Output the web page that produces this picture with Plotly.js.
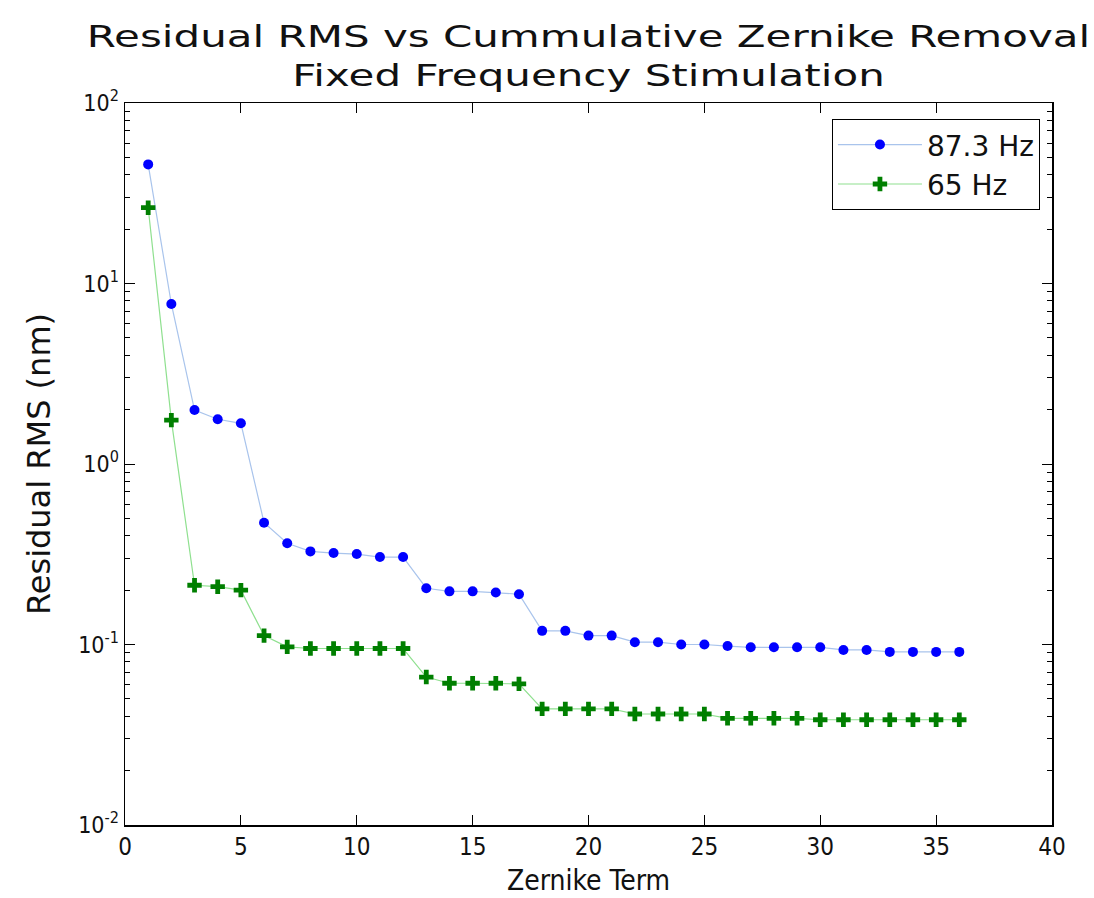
<!DOCTYPE html>
<html>
<head>
<meta charset="utf-8">
<script src="https://cdn.plot.ly/plotly-3.0.1.min.js"></script>
<style>
  html, body { margin: 0; padding: 0; background: #fff; }
  #chart { width: 1094px; height: 898px; }
</style>
</head>
<body>
<div id="chart"></div>
<script>
// Zernike term index (cumulative terms removed)
const zernikeTerms = [1, 2, 3, 4, 5, 6, 7, 8, 9, 10, 11, 12, 13, 14, 15, 16, 17, 18,
  19, 20, 21, 22, 23, 24, 25, 26, 27, 28, 29, 30, 31, 32, 33, 34, 35, 36];

// Residual RMS (nm) at 87.3 Hz stimulation
const rms873Hz = [45.7, 7.7, 1.99, 1.77, 1.68, 0.473, 0.364, 0.328, 0.321, 0.317, 0.305, 0.305,
  0.205, 0.197, 0.197, 0.194, 0.19, 0.119, 0.119, 0.112, 0.112, 0.103, 0.103, 0.100,
  0.100, 0.098, 0.0965, 0.0965, 0.0965, 0.0965, 0.0933, 0.0933, 0.091, 0.091, 0.091, 0.091];

// Residual RMS (nm) at 65 Hz stimulation
const rms65Hz = [26.3, 1.75, 0.213, 0.209, 0.2, 0.112, 0.097, 0.095, 0.095, 0.095, 0.095, 0.095,
  0.066, 0.061, 0.061, 0.061, 0.0605, 0.044, 0.044, 0.044, 0.044, 0.0412, 0.0412, 0.0412,
  0.0412, 0.039, 0.039, 0.039, 0.039, 0.0383, 0.0383, 0.0383, 0.0383, 0.0383, 0.0383, 0.0383];

const seriesNames = ['87.3 Hz', '65 Hz'];

// Log-axis decade labels
const yTickVals = [0.01, 0.1, 1, 10, 100];
const yTickText = ['10<sup>-2</sup>', '10<sup>-1</sup>', '10<sup>0</sup>', '10<sup>1</sup>', '10<sup>2</sup>'];

// X-axis tick positions
const xTickVals = [0, 5, 10, 15, 20, 25, 30, 35, 40];

// Minor ticks at 2..9 within each decade
const minorVals = [];
[0.01, 0.1, 1, 10].forEach(d => { for (let k = 2; k <= 9; k++) minorVals.push(d * k); });

const traces = [
  {
    x: zernikeTerms, y: rms873Hz, name: seriesNames[0],
    type: 'scatter', mode: 'lines+markers',
    line: { color: '#a9c4ec', width: 1.2 },
    marker: { symbol: 'circle', size: 10, color: '#0000ff', line: { width: 0 } }
  },
  {
    x: zernikeTerms, y: rms65Hz, name: seriesNames[1],
    type: 'scatter', mode: 'lines+markers',
    line: { color: '#8fe08f', width: 1.2 },
    marker: { symbol: 'cross', size: 12, color: '#007f00', line: { width: 0 } }
  }
];

const condensed = 'DejaVu Sans Condensed, DejaVu Sans, sans-serif';
const sans = 'DejaVu Sans, sans-serif';

const layout = {
  width: 1094, height: 898,
  paper_bgcolor: '#fff', plot_bgcolor: '#fff',
  margin: { l: 125, r: 42, t: 103, b: 73 },
  title: {
    text: 'Residual RMS vs Cummulative Zernike Removal<br>Fixed Frequency Stimulation',
    font: { family: sans, size: 30, color: '#111' },
    x: 0.5, xanchor: 'center', xref: 'paper',
    y: 0.948, yanchor: 'top', yref: 'container'
  },
  showlegend: true,
  legend: {
    x: 0.987, xanchor: 'right', y: 0.978, yanchor: 'top',
    bordercolor: '#000', borderwidth: 1, bgcolor: '#fff',
    font: { family: sans, size: 28, color: '#111' },
    itemwidth: 84
  },
  xaxis: {
    range: [0, 40], tickmode: 'array', tickvals: xTickVals,
    ticks: 'inside', ticklen: 10, tickcolor: '#000', tickwidth: 1,
    showline: true, linecolor: '#000', linewidth: 1.5, mirror: 'ticks',
    showgrid: false, zeroline: false,
    tickfont: { family: condensed, size: 24, color: '#111' },
    title: { text: 'Zernike Term', font: { family: condensed, size: 28, color: '#111' }, standoff: 10 }
  },
  yaxis: {
    type: 'log', range: [-2, 2],
    tickmode: 'array', tickvals: yTickVals, ticktext: yTickText,
    ticks: 'inside', ticklen: 10, tickcolor: '#000', tickwidth: 1,
    minor: { tickmode: 'array', tickvals: minorVals, ticks: 'inside', ticklen: 5, tickcolor: '#000', showgrid: false },
    showline: true, linecolor: '#000', linewidth: 1.5, mirror: 'ticks',
    showgrid: false, zeroline: false,
    tickfont: { family: condensed, size: 23, color: '#111' },
    title: { text: 'Residual RMS (nm)', font: { family: sans, size: 32, color: '#111' }, standoff: 18 }
  }
};

Plotly.newPlot('chart', traces, layout, { staticPlot: true, displayModeBar: false }).then(gd => {
  // Widen the title glyphs horizontally about its centre line
  const t = gd.querySelector('.gtitle');
  if (t) {
    const cx = parseFloat(t.getAttribute('x'));
    const prev = t.getAttribute('transform') || '';
    t.setAttribute('transform', `${prev} translate(${cx},0) scale(1.4,1) translate(${-cx},0)`);
  }
});
</script>
</body>
</html>
